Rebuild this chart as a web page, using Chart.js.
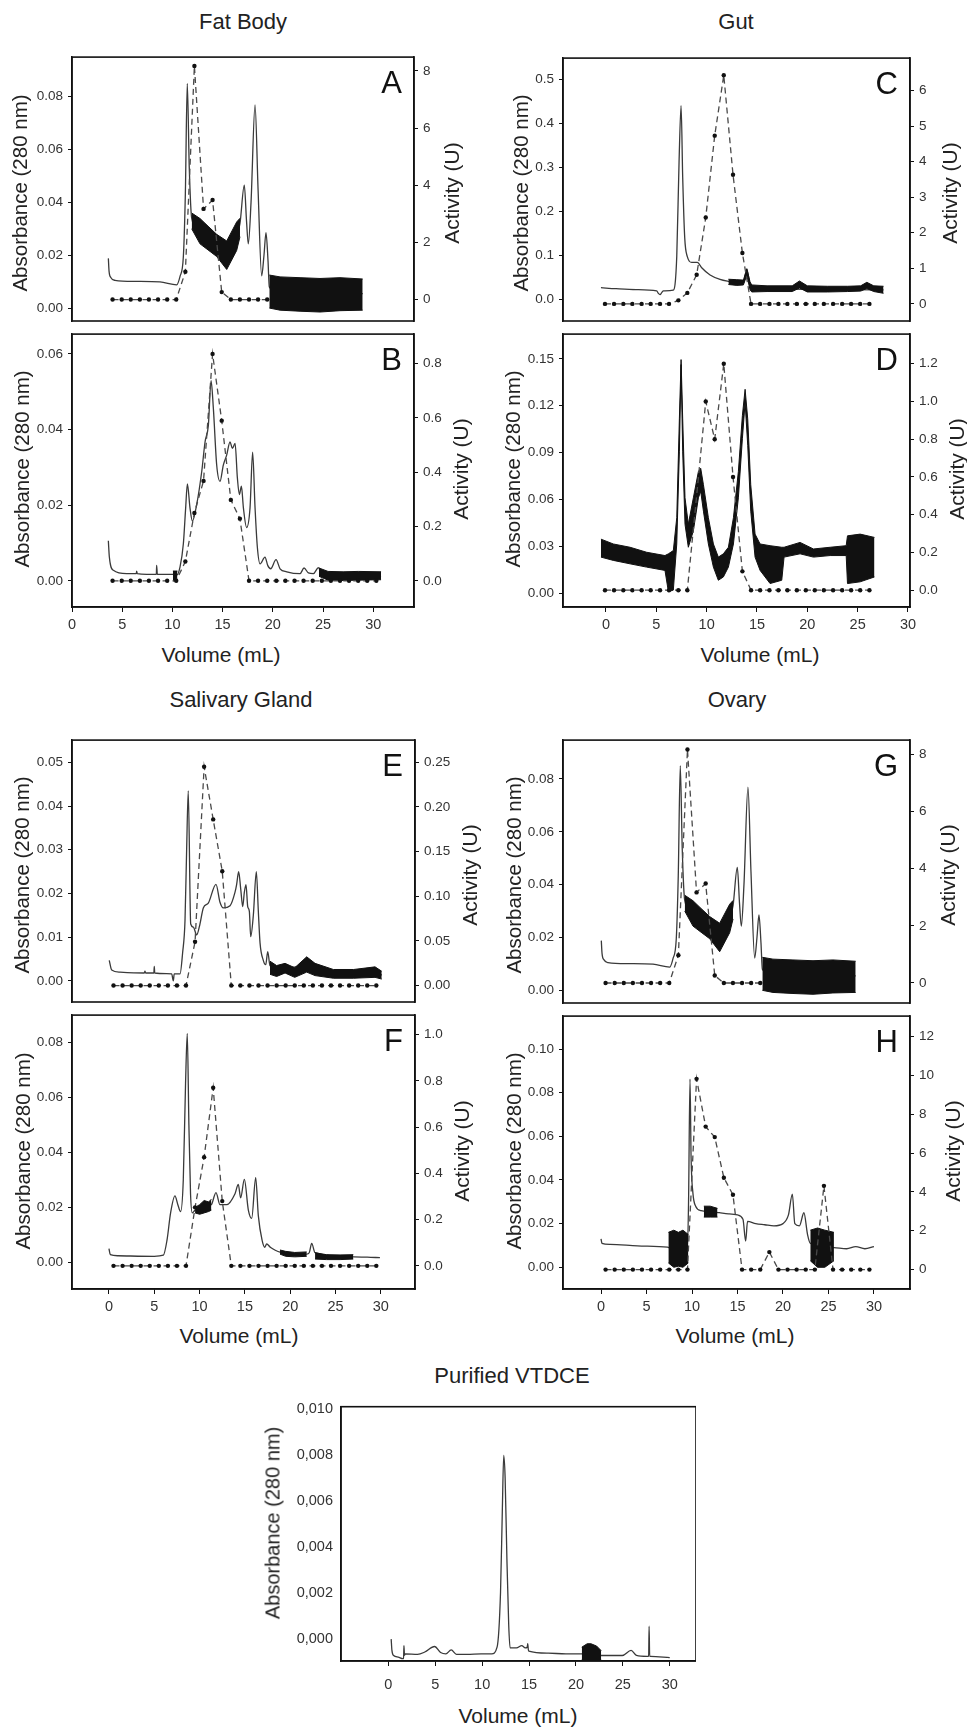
<!DOCTYPE html>
<html>
<head>
<meta charset="utf-8">
<script src="https://cdn.jsdelivr.net/npm/chart.js@4.4.1/dist/chart.umd.min.js"></script>
<style>
  html, body { margin: 0; padding: 0; background: #fff; }
  body { position: relative; width: 967px; height: 1728px; overflow: hidden;
         font-family: "Liberation Sans", Arial, sans-serif; color: #222; }
  canvas { position: absolute; }
</style>
</head>
<body>
<script>
// ---- data ----
const volumeTicks = [0, 5, 10, 15, 20, 25, 30];

// A  Fat Body
const aTrace = [[3.62,0.0188],[3.69,0.014],[3.88,0.0115],[4.28,0.0105],[6.27,0.0101],[8.76,0.0099],[10.43,0.0088],[10.76,0.012],[11.09,0.0195],[11.29,0.0435],[11.48,0.085],[11.68,0.053],[11.92,0.034],[12.75,0.029],[13.55,0.0265],[14.41,0.024],[15.41,0.020],[16.40,0.027],[16.73,0.032],[17.16,0.0465],[17.38,0.033],[17.56,0.0243],[17.83,0.04],[18.23,0.0769],[18.53,0.045],[18.89,0.0122],[19.12,0.02],[19.32,0.0285],[19.52,0.018],[19.65,0.008],[20.72,0.0055],[28.95,0.0055]];
const aBandMid = [[11.92,0.036,0.030],[12.75,0.0339,0.0243],[13.55,0.031,0.022],[14.41,0.0279,0.0195],[15.41,0.0254,0.0146],[16.40,0.0326,0.0218],[16.73,0.034,0.027]];
const aBandTail = [[19.65,0.0125,0.0],[20.72,0.0118,-0.0008],[22.71,0.0115,-0.0012],[24.70,0.0112,-0.0015],[26.69,0.0115,-0.001],[28.95,0.011,-0.0008]];
const aFractions = [4.04,4.95,5.85,6.76,7.66,8.57,9.48,10.38,11.29,12.19,13.10,14.00,14.91,15.82,16.72,17.63,18.53,19.44];
const aActivity = [0,0,0,0,0,0,0,0,0.97,8.17,3.17,3.48,0.26,0,0,0,0,0];
const aAbsTicks = [0, 0.02, 0.04, 0.06, 0.08];
const aActTicks = [0, 2, 4, 6, 8];

// B  Fat Body, second step
const bTrace = [[3.62,0.0106],[3.72,0.0063],[4.12,0.0028],[5.44,0.0019],[6.40,0.0019],[6.44,0.0026],[6.50,0.0019],[7.44,0.0017],[8.40,0.0017],[8.43,0.0041],[8.50,0.0017],[10.09,0.0017],[10.42,0.0015],[10.76,0.0037],[11.09,0.0098],[11.32,0.0193],[11.49,0.0256],[11.75,0.0193],[11.99,0.0158],[12.42,0.0202],[12.92,0.0289],[13.25,0.0367],[13.58,0.0411],[13.85,0.0529],[14.08,0.0455],[14.41,0.0306],[14.74,0.0263],[15.07,0.0306],[15.41,0.0333],[15.74,0.0367],[15.97,0.035],[16.24,0.0363],[16.47,0.0272],[16.67,0.0228],[16.87,0.025],[17.07,0.0193],[17.39,0.0141],[17.73,0.0193],[17.99,0.034],[18.23,0.0193],[18.46,0.0089],[18.73,0.0045],[19.22,0.0063],[19.49,0.0041],[19.79,0.0032],[20.32,0.0056],[20.72,0.0032],[21.39,0.0024],[22.71,0.0019],[23.11,0.0034],[23.54,0.0021],[24.04,0.0019],[24.54,0.0035],[24.87,0.0019],[30.78,0.0012]];
const bBandBlob = [[10.05,0.0026,0.0],[10.5,0.0026,0.0]];
const bBandTail = [[24.6,0.0034,0.0012],[25.5,0.0025,0.0002],[27.0,0.0024,0.0001],[28.5,0.0025,0.0002],[30.78,0.0024,0.0003]];
const bFractions = [4.04,4.95,5.85,6.76,7.66,8.57,9.48,10.38,11.29,12.19,13.10,14.00,14.91,15.82,16.72,17.63,18.53,19.44,20.35,21.25,22.16,23.06,23.97,24.88,25.78,26.69,27.59,28.50,29.40,30.31];
const bActivity = [0,0,0,0,0,0,0,0,0.071,0.25,0.368,0.836,0.59,0.298,0.229,0,0,0,0,0,0,0,0,0,0,0,0,0,0,0];
const bAbsTicks = [0, 0.02, 0.04, 0.06];
const bActTicks = [0, 0.2, 0.4, 0.6, 0.8];

// C  Gut
const cTrace = [[-0.50,0.0267],[1.0,0.0245],[3.0,0.0225],[5.04,0.0195],[5.20,0.014],[5.37,0.011],[5.55,0.016],[5.70,0.0195],[6.69,0.021],[7.03,0.0975],[7.26,0.314],[7.46,0.441],[7.62,0.278],[7.82,0.141],[8.08,0.0975],[8.52,0.0845],[9.08,0.0845],[9.51,0.072],[10.34,0.0556],[11.33,0.0455],[12.16,0.041],[13.0,0.038],[13.65,0.038],[13.99,0.0686],[14.31,0.0325],[14.48,0.025],[27.57,0.022]];
const cBand = [[12.16,0.046,0.034],[13.0,0.045,0.032],[13.65,0.044,0.033],[13.99,0.07,0.055],[14.31,0.04,0.022],[14.48,0.033,0.017],[16.0,0.031,0.018],[18.5,0.031,0.018],[19.22,0.042,0.026],[20.0,0.031,0.017],[22.0,0.030,0.017],[24.0,0.030,0.018],[25.3,0.031,0.019],[25.91,0.039,0.025],[26.6,0.031,0.018],[27.57,0.030,0.014]];
const cFractions = [-0.10,0.80,1.72,2.62,3.54,4.44,5.37,6.26,7.19,8.08,9.01,9.91,10.80,11.70,12.62,13.55,14.41,15.31,16.24,17.13,18.02,18.96,19.85,20.74,21.64,22.56,23.46,24.35,25.25,26.17];
const cActivity = [0,0,0,0,0,0,0,0,0.1,0.31,0.82,2.43,4.73,6.43,3.63,1.43,0,0,0,0,0,0,0,0,0,0,0,0,0,0];
const cAbsTicks = [0, 0.1, 0.2, 0.3, 0.4, 0.5];
const cActTicks = [0, 1, 2, 3, 4, 5, 6];

// D  Gut, second step
const dBand = [[-0.50,0.0347,0.0232],[0.73,0.0316,0.0211],[2.39,0.0295,0.0189],[4.04,0.0263,0.0168],[5.86,0.0242,0.0147],[6.20,0.0253,0.0011],[6.69,0.0274,0.0021],[7.03,0.0484,0.0316],[7.29,0.1116,0.0905],[7.46,0.1495,0.1463],[7.62,0.1116,0.0905],[7.85,0.0611,0.0442],[8.18,0.0442,0.0295],[8.68,0.0611,0.040],[9.18,0.0779,0.0611],[9.41,0.080,0.0653],[9.68,0.0695,0.0526],[10.17,0.0484,0.0316],[10.67,0.0316,0.0168],[11.16,0.0232,0.0084],[11.66,0.0253,0.0105],[12.16,0.0295,0.0168],[12.66,0.0484,0.0316],[13.15,0.0779,0.0611],[13.55,0.1137,0.0989],[13.82,0.1305,0.1221],[14.08,0.1116,0.0947],[14.38,0.0695,0.0526],[14.81,0.0379,0.0232],[15.31,0.0316,0.0147],[16.30,0.0305,0.0063],[17.46,0.0295,0.0084],[17.69,0.0295,0.0232],[19.28,0.0326,0.0253],[20.61,0.0284,0.0232],[22.27,0.0295,0.0242],[23.86,0.0305,0.0242],[23.99,0.0368,0.0063],[25.25,0.0379,0.0074],[26.67,0.0358,0.0105]];
const dFractions = [-0.10,0.80,1.72,2.62,3.54,4.44,5.37,6.26,7.19,8.08,9.01,9.91,10.80,11.70,12.62,13.55,14.41,15.31,16.24,17.13,18.02,18.96,19.85,20.74,21.64,22.56,23.46,24.35,25.25,26.17];
const dActivity = [0,0,0,0,0,0,0,0,0,0,0.503,1.0,0.8,1.2,0.6,0.1,0,0,0,0,0,0,0,0,0,0,0,0,0,0];
const dAbsTicks = [0, 0.03, 0.06, 0.09, 0.12, 0.15];
const dActTicks = [0, 0.2, 0.4, 0.6, 0.8, 1.0, 1.2];

// E  Salivary Gland
const eTrace = [[0.03,0.0047],[0.30,0.0025],[1.21,0.002],[3.90,0.0018],[3.97,0.0022],[4.05,0.0018],[4.95,0.0018],[5.0,0.0033],[5.05,0.0018],[6.92,0.0016],[7.10,0.0],[7.20,0.0016],[7.84,0.0016],[8.13,0.0065],[8.39,0.0138],[8.57,0.030],[8.75,0.0435],[9.02,0.013],[9.31,0.0123],[9.68,0.0105],[10.04,0.013],[10.41,0.0167],[10.96,0.0178],[11.81,0.0221],[12.25,0.018],[12.62,0.0167],[13.36,0.0172],[13.91,0.0203],[14.09,0.0221],[14.31,0.025],[14.54,0.021],[14.76,0.017],[14.94,0.0203],[15.12,0.022],[15.31,0.017],[15.49,0.0159],[15.64,0.0101],[15.93,0.015],[16.26,0.025],[16.48,0.016],[16.67,0.0087],[17.03,0.0047],[17.30,0.0037],[17.52,0.0067],[17.77,0.0035],[19.43,0.0029],[21.82,0.0035],[24.76,0.0016],[29.36,0.002],[30.10,0.0013]];
const eBandTail = [[17.77,0.0045,0.0015],[18.5,0.0035,0.0010],[19.43,0.0040,0.0018],[20.5,0.0030,0.0008],[21.82,0.0055,0.0020],[22.74,0.0040,0.0012],[24.76,0.0026,0.0006],[27.0,0.0026,0.0006],[29.36,0.0032,0.0008],[30.10,0.0022,0.0004]];
const eFractions = [0.5,1.5,2.5,3.5,4.5,5.5,6.5,7.5,8.5,9.5,10.5,11.5,12.5,13.5,14.5,15.5,16.5,17.5,18.5,19.5,20.5,21.5,22.5,23.5,24.5,25.5,26.5,27.5,28.5,29.5];
const eActivity = [0,0,0,0,0,0,0,0,0,0.049,0.245,0.186,0.128,0,0,0,0,0,0,0,0,0,0,0,0,0,0,0,0,0];
const eAbsTicks = [0, 0.01, 0.02, 0.03, 0.04, 0.05];
const eActTicks = [0, 0.05, 0.10, 0.15, 0.20, 0.25];

// F  Salivary Gland, second step
const fTrace = [[0.0,0.005],[0.15,0.0028],[1.0,0.0024],[5.0,0.0022],[6.0,0.0026],[6.4,0.008],[6.8,0.018],[7.28,0.0242],[7.6,0.021],[7.9,0.0185],[8.2,0.030],[8.45,0.065],[8.64,0.0833],[8.82,0.050],[9.0,0.025],[9.2,0.018],[9.5,0.019],[10.5,0.020],[11.3,0.021],[11.81,0.0254],[12.25,0.021],[12.99,0.021],[13.91,0.025],[14.27,0.0284],[14.53,0.0235],[14.94,0.0302],[15.38,0.019],[15.75,0.016],[16.19,0.0308],[16.48,0.017],[16.9,0.008],[17.2,0.0055],[17.4,0.0067],[17.8,0.0055],[18.3,0.0045],[18.87,0.0037],[21.82,0.003],[22.1,0.0035],[22.37,0.0069],[22.74,0.0035],[26.96,0.002],[28.5,0.0019],[29.9,0.0017]];
const fBandMid = [[9.5,0.020,0.018],[10.0,0.021,0.0175],[10.5,0.0225,0.018],[11.0,0.022,0.0185],[11.3,0.023,0.019]];
const fBandTail1 = [[18.87,0.0045,0.003],[19.5,0.0040,0.0022],[20.5,0.0036,0.0020],[21.82,0.0038,0.0022]];
const fBandTail2 = [[22.74,0.0035,0.0012],[24.0,0.0028,0.0010],[25.5,0.0027,0.0010],[26.96,0.0028,0.0012]];
const fActivity = [0,0,0,0,0,0,0,0,0,0.253,0.47,0.77,0.28,0,0,0,0,0,0,0,0,0,0,0,0,0,0,0,0,0];
const fAbsTicks = [0, 0.02, 0.04, 0.06, 0.08];
const fActTicks = [0, 0.2, 0.4, 0.6, 0.8, 1.0];

// G  Ovary
const gTrace = [[0.03,0.0188],[0.11,0.014],[0.33,0.0115],[0.77,0.0105],[2.97,0.0101],[5.71,0.0099],[7.55,0.0088],[7.91,0.012],[8.27,0.0195],[8.49,0.0435],[8.71,0.085],[8.93,0.053],[9.20,0.034],[10.11,0.029],[10.99,0.0265],[11.95,0.024],[13.04,0.020],[14.14,0.027],[14.51,0.032],[14.98,0.0465],[15.22,0.033],[15.42,0.0243],[15.71,0.04],[16.15,0.0769],[16.48,0.045],[16.89,0.0122],[17.14,0.02],[17.36,0.0285],[17.58,0.018],[17.73,0.008],[18.90,0.0055],[27.99,0.0055]];
const gBandMid = [[9.20,0.036,0.030],[10.11,0.0339,0.0243],[10.99,0.031,0.022],[11.95,0.0279,0.0195],[13.04,0.0254,0.0146],[14.14,0.0326,0.0218],[14.51,0.034,0.027]];
const gBandTail = [[17.73,0.0125,0.0],[18.90,0.0118,-0.0008],[21.10,0.0115,-0.0012],[23.30,0.0112,-0.0015],[25.49,0.0115,-0.001],[27.99,0.011,-0.0008]];
const gFractions = [0.5,1.5,2.5,3.5,4.5,5.5,6.5,7.5,8.5,9.5,10.5,11.5,12.5,13.5,14.5,15.5,16.5,17.5];
const gActivity = [0,0,0,0,0,0,0,0,0.97,8.17,3.17,3.48,0.26,0,0,0,0,0];

// H  Ovary, second step
const hTrace = [[0.0,0.013],[0.1,0.011],[1.0,0.0105],[4.0,0.0098],[7.3,0.0092],[7.5,0.009],[9.5,0.009],[9.62,0.03],[9.78,0.0862],[9.9,0.05],[10.1,0.034],[10.4,0.028],[11.0,0.026],[12.0,0.0255],[13.0,0.025],[14.0,0.0245],[15.0,0.024],[15.6,0.022],[15.9,0.012],[16.1,0.021],[17.0,0.020],[18.0,0.0195],[19.0,0.019],[20.0,0.020],[20.6,0.024],[21.03,0.0335],[21.3,0.020],[21.8,0.019],[22.3,0.025],[22.7,0.015],[23.0,0.011],[25.6,0.009],[27.0,0.0085],[28.0,0.0095],[29.0,0.0085],[30.0,0.0095]];
const hBandLow = [[7.4,0.016,0.002],[8.0,0.017,0.0],[8.5,0.016,0.0005],[9.0,0.017,0.0],[9.6,0.015,0.002]];
const hBandMid = [[11.3,0.028,0.023],[12.0,0.028,0.023],[12.8,0.027,0.023]];
const hBandTail = [[23.0,0.017,0.003],[23.8,0.018,0.0],[24.6,0.017,0.0],[25.6,0.016,0.003]];
const hActivity = [0,0,0,0,0,0,0,0,0,0,9.82,7.36,6.82,4.73,3.85,0,0,0,0.9,0,0,0,0,0,4.31,0,0,0,0,0];
const hAbsTicks = [0, 0.02, 0.04, 0.06, 0.08, 0.10];
const hActTicks = [0, 2, 4, 6, 8, 10, 12];

// I  Purified VTDCE
const iTrace = [[0.30,0.0],[0.38,-0.00049],[0.56,-0.00071],[1.05,-0.00078],[1.54,-0.00085],[1.62,-0.00085],[1.66,-0.00028],[1.72,-0.0007],[1.81,-0.00064],[3.12,-0.00066],[3.88,-0.00056],[4.93,-0.00032],[5.57,-0.00058],[6.13,-0.00064],[6.70,-0.00047],[7.26,-0.00066],[8.39,-0.00066],[9.89,-0.00064],[11.02,-0.00064],[11.59,-0.00035],[11.96,0.00205],[12.15,0.00558],[12.30,0.00798],[12.45,0.0070],[12.64,0.00346],[12.83,0.00064],[12.98,-0.00038],[13.66,-0.00038],[14.22,-0.00028],[14.60,-0.00038],[14.80,-0.00035],[14.86,-0.0002],[14.92,-0.00045],[14.97,-0.00052],[17.04,-0.00061],[18.92,-0.00064],[20.62,-0.00064],[22.69,-0.00071],[24.94,-0.00071],[25.88,-0.00049],[26.45,-0.00071],[27.58,-0.00075],[27.75,-0.00075],[27.80,0.00056],[27.86,-0.00075],[27.95,-0.00075],[30.0,-0.0008]];
const iBand = [[20.62,-0.00035,-0.0009],[21.2,-0.0002,-0.00105],[21.6,-0.0002,-0.0011],[22.2,-0.0003,-0.001],[22.69,-0.0005,-0.0009]];
const iAbsTicks = [0, 0.002, 0.004, 0.006, 0.008, 0.010];

// ---- drawing ----
const FONT = '"Liberation Sans", Arial, sans-serif';
Chart.defaults.font.family = FONT;
Chart.defaults.color = '#333';

const pts = (a, k) => a.map(p => ({ x: p[0], y: p[k || 1] }));
const zip = (xs, ys) => xs.map((x, i) => ({ x: x, y: ys[i] }));

const panelDecor = {
  id: 'panelDecor',
  afterDraw(chart, args, opts) {
    const { ctx, chartArea: a } = chart;
    ctx.save();
    ctx.strokeStyle = '#111';
    ctx.lineWidth = 1.6;
    ctx.strokeRect(a.left, a.top, a.right - a.left, a.bottom - a.top);
    if (opts.letter) {
      ctx.fillStyle = '#111';
      ctx.font = '31px ' + FONT;
      ctx.textAlign = 'right';
      ctx.fillText(opts.letter, a.right - 12, a.top + 36);
    }
    ctx.restore();
  }
};

function yAxis(pos, range, ticks, dec, width, o) {
  o = o || {};
  return {
    type: 'linear', position: pos, min: range[0], max: range[1],
    afterFit: s => { s.width = width; },
    afterBuildTicks: s => { s.ticks = ticks.map(v => ({ value: v })); },
    ticks: {
      padding: o.pad || 5, autoSkip: false, font: { size: o.size || 13.5 }, color: '#333',
      callback: v => { const s = Number(v).toFixed(dec); return o.comma ? s.replace('.', ',') : s; }
    },
    grid: { drawOnChartArea: false, drawTicks: o.noTicks ? false : true, tickLength: 4, color: '#111' },
    border: { display: true, color: '#111', width: 1.5 }
  };
}

function xAxis(range, show, h, pad) {
  return {
    type: 'linear', display: show, min: range[0], max: range[1],
    afterFit: s => { s.height = h; },
    afterBuildTicks: s => { s.ticks = volumeTicks.map(v => ({ value: v })); },
    ticks: { padding: pad, autoSkip: false, maxRotation: 0, font: { size: 14.5 }, color: '#333', callback: v => String(v) },
    grid: { drawOnChartArea: false, drawTicks: true, tickLength: 5, color: '#111' },
    border: { display: true, color: '#111', width: 1.5 }
  };
}

function makePanel(p) {
  const lw = p.lw || 60, rw = p.rw || 50;
  const bh = p.showX ? (p.bh || 30) : 10;
  const fw = p.f[2] - p.f[0], fh = p.f[3] - p.f[1];
  const w = lw + fw + rw, h = 10 + fh + bh;
  const c = document.createElement('canvas');
  c.width = w; c.height = h;
  c.style.left = (p.f[0] - lw) + 'px';
  c.style.top = (p.f[1] - 10) + 'px';
  c.style.width = w + 'px'; c.style.height = h + 'px';
  document.body.appendChild(c);

  // order: higher numbers are painted first (further back)
  const datasets = [];
  if (p.act) {
    datasets.push({ data: zip(p.act[0], p.act[1]), yAxisID: 'y2', order: 1, borderColor: '#4a4a4a', borderWidth: 1.3,
      borderDash: [6, 4], pointRadius: 2.2, pointBackgroundColor: '#111', pointBorderWidth: 0, tension: 0 });
  }
  datasets.push({ data: pts(p.trace), yAxisID: 'y', order: 3, borderColor: '#3a3a3a', borderWidth: 1.3,
    pointRadius: 0, cubicInterpolationMode: 'monotone' });
  (p.bands || []).forEach(b => {
    datasets.push({ data: pts(b, 1), yAxisID: 'y', order: 2, borderColor: '#111', borderWidth: 1, pointRadius: 0,
      fill: '+1', backgroundColor: '#111' });
    datasets.push({ data: pts(b, 2), yAxisID: 'y', order: 2, borderColor: '#111', borderWidth: 1, pointRadius: 0, fill: false });
  });

  const scales = {
    x: xAxis(p.x, p.showX, bh, p.xPad || 4),
    y: yAxis('left', p.y, p.yTicks, p.yDec, lw, p.yOpt)
  };
  if (p.act) scales.y2 = yAxis('right', p.y2, p.y2Ticks, p.y2Dec, rw);

  new Chart(c, {
    type: 'line',
    data: { datasets },
    options: {
      responsive: false, animation: false,
      layout: { padding: { top: 10, left: 0, right: 0, bottom: p.showX ? 0 : 10 } },
      plugins: { legend: { display: false }, tooltip: { enabled: false }, panelDecor: { letter: p.letter } },
      scales
    },
    plugins: [panelDecor]
  });
}

makePanel({ letter: 'A', f: [72, 54, 414, 331], x: [0, 34.06], showX: false,
  y: [-0.0049, 0.095], yTicks: aAbsTicks, yDec: 2, y2: [-0.75, 8.48], y2Ticks: aActTicks, y2Dec: 0,
  trace: aTrace, bands: [aBandMid, aBandTail], act: [aFractions, aActivity] });
makePanel({ letter: 'B', f: [72, 331, 414, 607], x: [0, 34.06], showX: true,
  y: [-0.0069, 0.0652], yTicks: bAbsTicks, yDec: 2, y2: [-0.0966, 0.909], y2Ticks: bActTicks, y2Dec: 1,
  trace: bTrace, bands: [bBandBlob, bBandTail], act: [bFractions, bActivity] });
makePanel({ letter: 'C', f: [563, 55, 910, 331], x: [-4.27, 30.2], showX: false,
  y: [-0.049, 0.549], yTicks: cAbsTicks, yDec: 1, y2: [-0.48, 6.91], y2Ticks: cActTicks, y2Dec: 0,
  trace: cTrace, bands: [cBand], act: [cFractions, cActivity] });
makePanel({ letter: 'D', f: [563, 331, 910, 607], x: [-4.27, 30.2], showX: true,
  y: [-0.0087, 0.1658], yTicks: dAbsTicks, yDec: 2, y2: [-0.089, 1.357], y2Ticks: dActTicks, y2Dec: 1,
  trace: [], bands: [dBand], act: [dFractions, dActivity] });
makePanel({ letter: 'E', f: [72, 737, 415, 1012], x: [-4.08, 33.77], showX: false,
  y: [-0.00484, 0.0551], yTicks: eAbsTicks, yDec: 2, y2: [-0.0184, 0.2748], y2Ticks: eActTicks, y2Dec: 2,
  trace: eTrace, bands: [eBandTail], act: [eFractions, eActivity] });
makePanel({ letter: 'F', f: [72, 1012, 415, 1289], x: [-4.08, 33.77], showX: true,
  y: [-0.0097, 0.09], yTicks: fAbsTicks, yDec: 2, y2: [-0.1, 1.084], y2Ticks: fActTicks, y2Dec: 1,
  trace: fTrace, bands: [fBandMid, fBandTail1, fBandTail2], act: [eFractions, fActivity] });
makePanel({ letter: 'G', f: [563, 737, 910, 1013], x: [-4.18, 33.96], showX: false,
  y: [-0.0048, 0.0947], yTicks: aAbsTicks, yDec: 2, y2: [-0.7, 8.5], y2Ticks: aActTicks, y2Dec: 0,
  trace: gTrace, bands: [gBandMid, gBandTail], act: [gFractions, gActivity] });
makePanel({ letter: 'H', f: [563, 1013, 910, 1289], x: [-4.18, 33.96], showX: true,
  y: [-0.00995, 0.1151], yTicks: hAbsTicks, yDec: 2, y2: [-1.0, 13.05], y2Ticks: hActTicks, y2Dec: 0,
  trace: hTrace, bands: [hBandLow, hBandMid, hBandTail], act: [eFractions, hActivity] });
makePanel({ letter: '', f: [341, 1400, 676, 1661], x: [-5.05, 32.8], showX: true, bh: 40, xPad: 10, rw: 20,
  y: [-0.00095, 0.0101], yTicks: iAbsTicks, yDec: 3, yOpt: { comma: true, noTicks: true, pad: 8, size: 14.5 },
  trace: iTrace, bands: [iBand] });

// titles
const texts = [
  ['Fat Body', 243, 22, 22, 0], ['Gut', 736, 22, 22, 0],
  ['Volume (mL)', 221, 655, 21, 0], ['Volume (mL)', 760, 655, 21, 0],
  ['Salivary Gland', 241, 700, 22, 0], ['Ovary', 737, 700, 22, 0],
  ['Volume (mL)', 239, 1336, 21, 0], ['Volume (mL)', 735, 1336, 21, 0],
  ['Purified VTDCE', 512, 1376, 22, 0], ['Volume (mL)', 518, 1716, 21, 0],
  ['Absorbance (280 nm)', 20, 193, 20.5, 1], ['Absorbance (280 nm)', 22, 469, 20.5, 1],
  ['Absorbance (280 nm)', 521, 193, 20.5, 1], ['Absorbance (280 nm)', 513, 469, 20.5, 1],
  ['Absorbance (280 nm)', 22, 875, 20.5, 1], ['Absorbance (280 nm)', 23, 1151, 20.5, 1],
  ['Absorbance (280 nm)', 514, 875, 20.5, 1], ['Absorbance (280 nm)', 514, 1151, 20.5, 1],
  ['Absorbance (280 nm)', 273, 1523, 20, 1],
  ['Activity (U)', 452, 193, 21, 1], ['Activity (U)', 461, 469, 21, 1],
  ['Activity (U)', 950, 193, 21, 1], ['Activity (U)', 957, 469, 21, 1],
  ['Activity (U)', 470, 875, 21, 1], ['Activity (U)', 462, 1151, 21, 1],
  ['Activity (U)', 948, 875, 21, 1], ['Activity (U)', 953, 1151, 21, 1]
];
texts.forEach(([s, x, y, size, rot]) => {
  const d = document.createElement('div');
  d.textContent = s;
  d.style.cssText = 'position:absolute;white-space:nowrap;line-height:1.15;color:#222;left:' + x + 'px;top:' + y +
    'px;font-size:' + size + 'px;transform:translate(-50%,-50%)' + (rot ? ' rotate(-90deg)' : '') + ';';
  document.body.appendChild(d);
});
</script>
</body>
</html>
